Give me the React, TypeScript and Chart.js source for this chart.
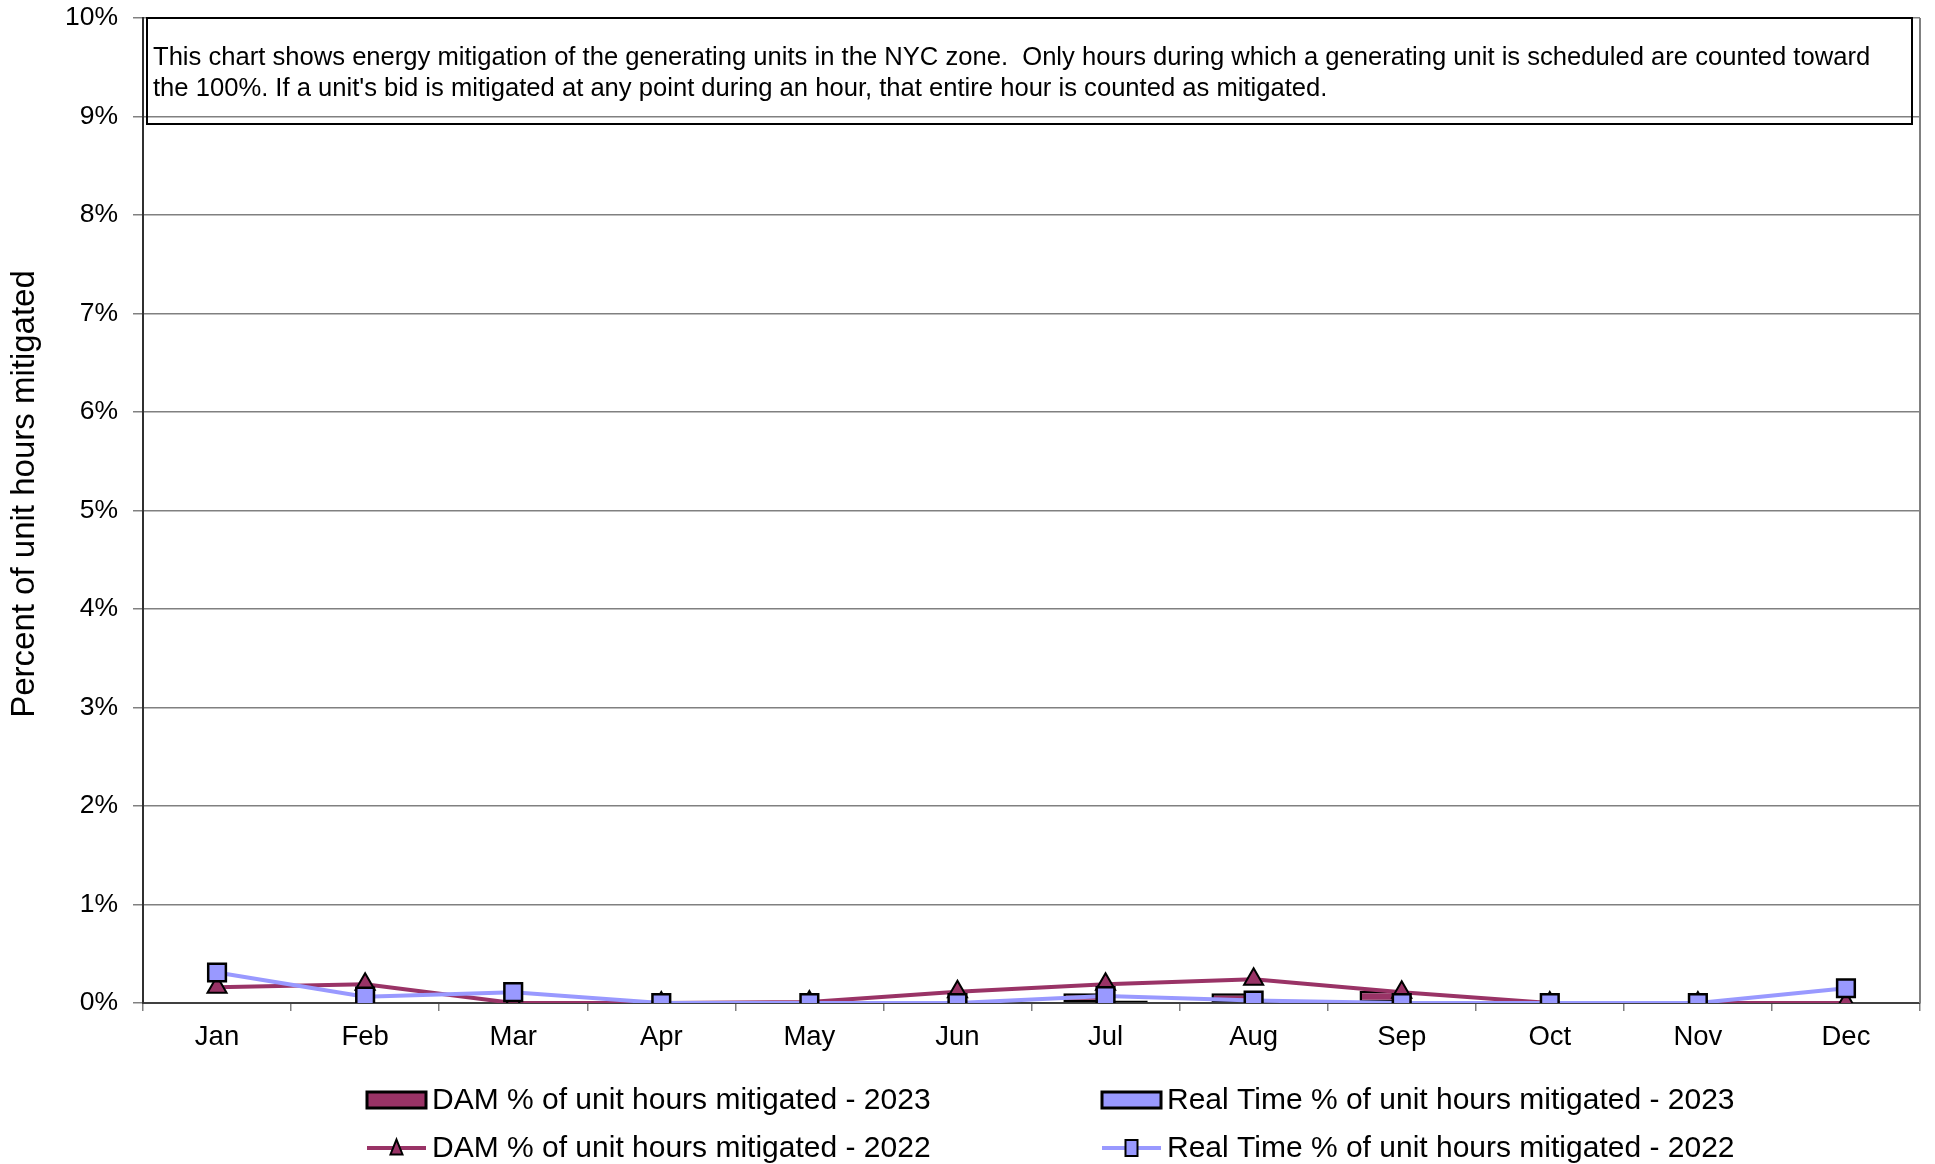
import React, { useEffect, useRef } from "react";
import { Chart, registerables } from "chart.js";

Chart.register(...registerables);

// ---- data (percent) ----
const months = ["Jan", "Feb", "Mar", "Apr", "May", "Jun", "Jul", "Aug", "Sep", "Oct", "Nov", "Dec"];
const dam2023: (number | null)[] = [null, null, null, null, null, 0.015, 0.1, 0.1, 0.125, 0.02, null, null];
const rt2023: (number | null)[] = [null, null, null, null, null, 0.015, 0.025, 0.02, 0.015, 0.02, null, null];
const dam2022 = [0.16, 0.19, 0, 0, 0.01, 0.115, 0.19, 0.24, 0.11, 0, 0, 0];
const rt2022 = [0.31, 0.064, 0.11, 0, 0, 0, 0.07, 0.025, 0, 0, 0, 0.15];
const yTickValues = [0, 1, 2, 3, 4, 5, 6, 7, 8, 9, 10];
const yTitle = "Percent of unit hours mitigated";
const legendLabels = [
  "DAM % of unit hours mitigated - 2023",
  "Real Time % of unit hours mitigated - 2023",
  "DAM % of unit hours mitigated - 2022",
  "Real Time % of unit hours mitigated - 2022",
];
const noteLines = [
  "This chart shows energy mitigation of the generating units in the NYC zone.  Only hours during which a generating unit is scheduled are counted toward",
  "the 100%. If a unit's bid is mitigated at any point during an hour, that entire hour is counted as mitigated.",
];

const DAM_COLOR = "#993366";
const RT_COLOR = "#9999FF";
const FONT = "'Liberation Sans', Arial, sans-serif";

function drawTri(ctx: CanvasRenderingContext2D, x: number, y: number, w: number, h: number, fill: string) {
  ctx.beginPath();
  ctx.moveTo(x, y - h / 2);
  ctx.lineTo(x + w / 2, y + h / 2);
  ctx.lineTo(x - w / 2, y + h / 2);
  ctx.closePath();
  ctx.fillStyle = fill;
  ctx.fill();
  ctx.lineWidth = 2;
  ctx.strokeStyle = "#000";
  ctx.stroke();
}

const overlayPlugin = {
  id: "overlay",
  afterDatasetsDraw(chart: any) {
    const ctx: CanvasRenderingContext2D = chart.ctx;
    const { left, right, top, bottom } = chart.chartArea;
    ctx.save();
    // right border of plot area
    ctx.strokeStyle = "#808080";
    ctx.lineWidth = 2;
    ctx.beginPath();
    ctx.moveTo(right, top);
    ctx.lineTo(right, bottom);
    ctx.stroke();
    // note box
    ctx.strokeStyle = "#000";
    ctx.lineWidth = 2;
    ctx.strokeRect(left + 4, top, right - left - 12, 106);
    ctx.fillStyle = "#000";
    ctx.font = `25.6px ${FONT}`;
    ctx.textBaseline = "alphabetic";
    ctx.textAlign = "left";
    ctx.fillText(noteLines[0], left + 10, top + 47);
    ctx.fillText(noteLines[1], left + 10, top + 78);
    // y axis title
    ctx.save();
    ctx.translate(25, 494);
    ctx.rotate(-Math.PI / 2);
    ctx.font = `33px ${FONT}`;
    ctx.textAlign = "center";
    ctx.textBaseline = "middle";
    ctx.fillText(yTitle, 0, 0);
    ctx.restore();
    ctx.restore();
  },
  afterDraw(chart: any) {
    const ctx: CanvasRenderingContext2D = chart.ctx;
    ctx.save();
    const cols = [367, 1102];
    const rows = [1100, 1148];
    const sw = 59;
    ctx.font = `30px ${FONT}`;
    ctx.textBaseline = "middle";
    ctx.textAlign = "left";
    // row 1: bars
    const barColors = [DAM_COLOR, RT_COLOR];
    for (let i = 0; i < 2; i++) {
      const x = cols[i];
      const y = rows[0];
      ctx.fillStyle = barColors[i];
      ctx.fillRect(x, y - 8, sw, 16);
      ctx.strokeStyle = "#000";
      ctx.lineWidth = 3;
      ctx.strokeRect(x, y - 8, sw, 16);
      ctx.fillStyle = "#000";
      ctx.fillText(legendLabels[i], x + sw + 6, y + 1);
    }
    // row 2: lines
    for (let i = 0; i < 2; i++) {
      const x = cols[i];
      const y = rows[1];
      ctx.strokeStyle = barColors[i];
      ctx.lineWidth = 4;
      ctx.beginPath();
      ctx.moveTo(x, y);
      ctx.lineTo(x + sw, y);
      ctx.stroke();
      const cx = x + sw / 2;
      if (i === 0) {
        drawTri(ctx, cx, y - 1, 12, 15, DAM_COLOR);
      } else {
        ctx.fillStyle = RT_COLOR;
        ctx.fillRect(cx - 6, y - 8, 12, 16);
        ctx.lineWidth = 2;
        ctx.strokeStyle = "#000";
        ctx.strokeRect(cx - 6, y - 8, 12, 16);
      }
      ctx.fillStyle = "#000";
      ctx.fillText(legendLabels[i + 2], x + sw + 6, y + 1);
    }
    ctx.restore();
  },
};

export default function App() {
  const canvasRef = useRef<HTMLCanvasElement | null>(null);

  useEffect(() => {
    if (!canvasRef.current) return;
    const chart = new Chart(canvasRef.current, {
      type: "bar",
      data: {
        labels: months,
        datasets: [
          {
            type: "line",
            label: legendLabels[2],
            data: dam2022,
            borderColor: DAM_COLOR,
            borderWidth: 4,
            pointStyle: "triangle",
            pointRadius: 11,
            pointBackgroundColor: DAM_COLOR,
            pointBorderColor: "#000",
            pointBorderWidth: 2,
            tension: 0,
            order: 1,
          } as any,
          {
            type: "line",
            label: legendLabels[3],
            data: rt2022,
            borderColor: RT_COLOR,
            borderWidth: 4,
            pointStyle: "rect",
            pointRadius: 12.5,
            pointBackgroundColor: RT_COLOR,
            pointBorderColor: "#000",
            pointBorderWidth: 2.5,
            tension: 0,
            order: 0,
          } as any,
          {
            type: "bar",
            label: legendLabels[0],
            data: dam2023,
            backgroundColor: DAM_COLOR,
            borderColor: "#000",
            borderWidth: 2.5,
            borderSkipped: false,
            categoryPercentage: 0.57,
            barPercentage: 1,
            order: 2,
          },
          {
            type: "bar",
            label: legendLabels[1],
            data: rt2023,
            backgroundColor: RT_COLOR,
            borderColor: "#000",
            borderWidth: 2.5,
            borderSkipped: false,
            categoryPercentage: 0.57,
            barPercentage: 1,
            order: 2,
          },
        ],
      },
      options: {
        animation: false,
        responsive: true,
        maintainAspectRatio: false,
        layout: { padding: { left: 0, right: 5, top: 18, bottom: 111 } },
        plugins: {
          legend: { display: false },
          tooltip: { enabled: false },
          title: { display: false },
        },
        scales: {
          x: {
            type: "category",
            offset: true,
            grid: {
              display: true,
              offset: true,
              drawOnChartArea: false,
              tickLength: 8,
              color: "#808080",
              lineWidth: 1.5,
            },
            border: { display: true, color: "#404040", width: 2 },
            ticks: {
              color: "#000",
              font: { family: FONT, size: 27.5 },
              padding: 10,
              maxRotation: 0,
              autoSkip: false,
            },
            afterFit: (scale: any) => {
              scale.height = 50;
              scale.paddingLeft = 0;
              scale.paddingRight = 0;
            },
          },
          y: {
            type: "linear",
            min: 0,
            max: 10,
            afterBuildTicks: (scale: any) => {
              scale.ticks = yTickValues.map((v) => ({ value: v }));
            },
            grid: {
              color: "#808080",
              lineWidth: 1.5,
              tickLength: 10,
              drawTicks: true,
            },
            border: { display: true, color: "#303030", width: 2 },
            ticks: {
              color: "#000",
              font: { family: FONT, size: 26.5 },
              padding: 15,
              callback: (v: any) => `${v}%`,
            },
            title: { display: false },
            afterFit: (scale: any) => {
              scale.width = 143;
              scale.paddingTop = 0;
              scale.paddingBottom = 0;
            },
          },
        },
      },
      plugins: [overlayPlugin],
    });
    return () => chart.destroy();
  }, []);

  return (
    <div style={{ position: "absolute", left: 0, top: 0, width: 1935, height: 1164, background: "#fff" }}>
      <canvas ref={canvasRef} />
    </div>
  );
}
